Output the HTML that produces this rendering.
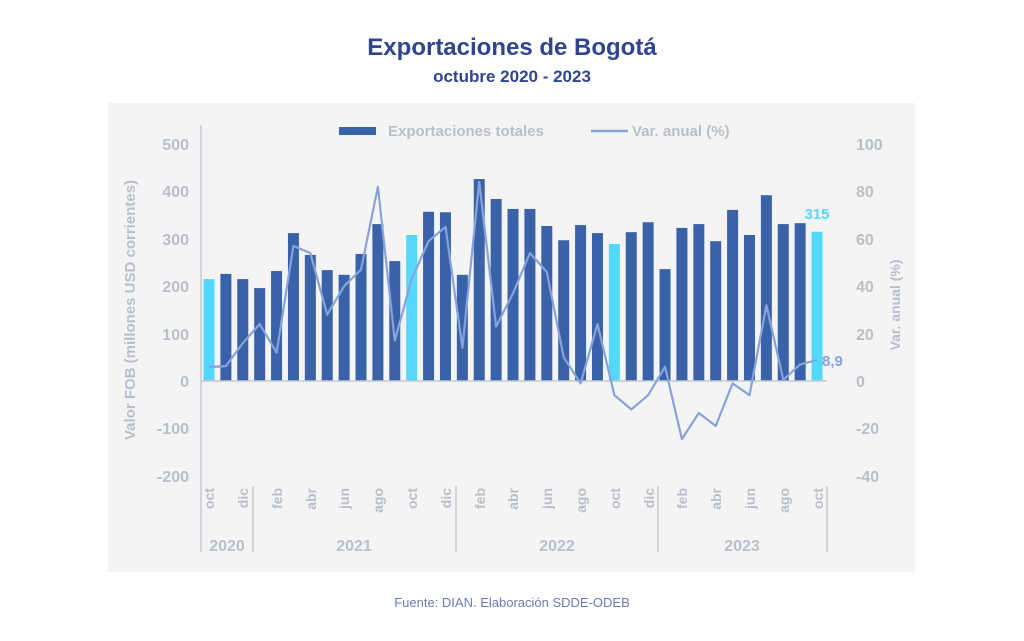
<!DOCTYPE html>
<html><head><meta charset="utf-8"><style>
html,body{margin:0;padding:0;background:#fff;width:1024px;height:641px;overflow:hidden}
svg{display:block;font-family:"Liberation Sans",sans-serif}
</style></head><body>
<svg id="s" width="1024" height="641" xmlns="http://www.w3.org/2000/svg">
<rect x="0" y="0" width="1024" height="641" fill="#ffffff"/>
<text x="512" y="55" text-anchor="middle" font-size="24" font-weight="bold" fill="#2f4592">Exportaciones de Bogotá</text>
<text x="512" y="82" text-anchor="middle" font-size="17" font-weight="bold" fill="#2f4592">octubre 2020 - 2023</text>
<rect x="108" y="103" width="807" height="469" fill="#f4f4f4"/>
<g id="bars"></g>
<line x1="201" y1="381" x2="827" y2="381" stroke="#c5cad3" stroke-width="1.5"/>
<line x1="201" y1="125" x2="201" y2="552" stroke="#c5cad3" stroke-width="1.5"/>
<line x1="253" y1="486" x2="253" y2="552" stroke="#c5cad3" stroke-width="1.5"/>
<line x1="456" y1="486" x2="456" y2="552" stroke="#c5cad3" stroke-width="1.5"/>
<line x1="658" y1="486" x2="658" y2="552" stroke="#c5cad3" stroke-width="1.5"/>
<line x1="827" y1="486" x2="827" y2="552" stroke="#c5cad3" stroke-width="1.5"/>
<polyline id="ln" fill="none" stroke="#87a3dc" stroke-width="2.2" stroke-linejoin="round"/>
<g font-size="16" font-weight="bold" fill="#b9bfca" text-anchor="end">
<text x="189" y="150">500</text><text x="189" y="197">400</text><text x="189" y="245">300</text>
<text x="189" y="292">200</text><text x="189" y="340">100</text><text x="189" y="387">0</text>
<text x="189" y="434">-100</text><text x="189" y="482">-200</text>
</g>
<g font-size="16" font-weight="bold" fill="#b9bfca" text-anchor="start">
<text x="856" y="150">100</text><text x="856" y="197">80</text><text x="856" y="245">60</text>
<text x="856" y="292">40</text><text x="856" y="340">20</text><text x="856" y="387">0</text>
<text x="856" y="434">-20</text><text x="856" y="482">-40</text>
</g>
<text transform="translate(135,310) rotate(-90)" text-anchor="middle" font-size="15" font-weight="bold" fill="#b9bfca">Valor FOB (millones USD corrientes)</text>
<text transform="translate(900,305) rotate(-90)" text-anchor="middle" font-size="14" font-weight="bold" fill="#b9bfca">Var. anual (%)</text>
<rect x="339" y="127" width="37" height="8" fill="#3a62a8"/>
<text x="388" y="136" font-size="15" font-weight="bold" fill="#b9bfca">Exportaciones totales</text>
<line x1="591" y1="131" x2="628" y2="131" stroke="#87a3dc" stroke-width="2.5"/>
<text x="632" y="136" font-size="15" font-weight="bold" fill="#b9bfca">Var. anual (%)</text>
<text x="817" y="219" text-anchor="middle" font-size="15" font-weight="bold" fill="#55d8fd">315</text>
<text x="822" y="366" font-size="15" font-weight="bold" fill="#87a3dc">8,9</text>
<g font-size="14" font-weight="bold" fill="#b9bfca" text-anchor="end">
<text transform="translate(214,488) rotate(-90)">oct</text>
<text transform="translate(248,488) rotate(-90)">dic</text>
<text transform="translate(282,488) rotate(-90)">feb</text>
<text transform="translate(316,488) rotate(-90)">abr</text>
<text transform="translate(349,488) rotate(-90)">jun</text>
<text transform="translate(383,488) rotate(-90)">ago</text>
<text transform="translate(417,488) rotate(-90)">oct</text>
<text transform="translate(451,488) rotate(-90)">dic</text>
<text transform="translate(485,488) rotate(-90)">feb</text>
<text transform="translate(518,488) rotate(-90)">abr</text>
<text transform="translate(552,488) rotate(-90)">jun</text>
<text transform="translate(586,488) rotate(-90)">ago</text>
<text transform="translate(620,488) rotate(-90)">oct</text>
<text transform="translate(654,488) rotate(-90)">dic</text>
<text transform="translate(687,488) rotate(-90)">feb</text>
<text transform="translate(721,488) rotate(-90)">abr</text>
<text transform="translate(755,488) rotate(-90)">jun</text>
<text transform="translate(789,488) rotate(-90)">ago</text>
<text transform="translate(823,488) rotate(-90)">oct</text>
</g>
<g font-size="16" font-weight="bold" fill="#b9bfca" text-anchor="middle">
<text x="227" y="551">2020</text><text x="354" y="551">2021</text>
<text x="557" y="551">2022</text><text x="742" y="551">2023</text>
</g>
<text x="512" y="607" text-anchor="middle" font-size="13" fill="#6b7bb5">Fuente: DIAN. Elaboración SDDE-ODEB</text>
</svg>
<script>
var b=[215,226,215,196,232,312,266,234,224,268,331,253,308,357,356,224,426,384,363,363,327,297,329,312,289,314,335,236,323,331,295,361,308,392,331,333,315];
var p=[5.9,6.3,16,24,12,57,54,28,40,47,82,17,43,59,65,14,84,23,37,54,46,10,-1,24,-6,-12,-6,6,-24.5,-13.5,-19,-1,-6,32,0.5,7,8.9];
var g=document.getElementById('bars'),ns='http://www.w3.org/2000/svg',pts=[];
for(var k=0;k<37;k++){var cx=209+16.89*k,h=b[k]*0.474;
var r=document.createElementNS(ns,'rect');r.setAttribute('x',cx-5.5);r.setAttribute('y',381-h);r.setAttribute('width',11);r.setAttribute('height',h);
r.setAttribute('fill',(k%12==0)?'#55d8fd':'#3a62a8');g.appendChild(r);
pts.push(cx.toFixed(1)+','+(381-p[k]*2.37).toFixed(1));}
document.getElementById('ln').setAttribute('points',pts.join(' '));
</script>
</body></html>
